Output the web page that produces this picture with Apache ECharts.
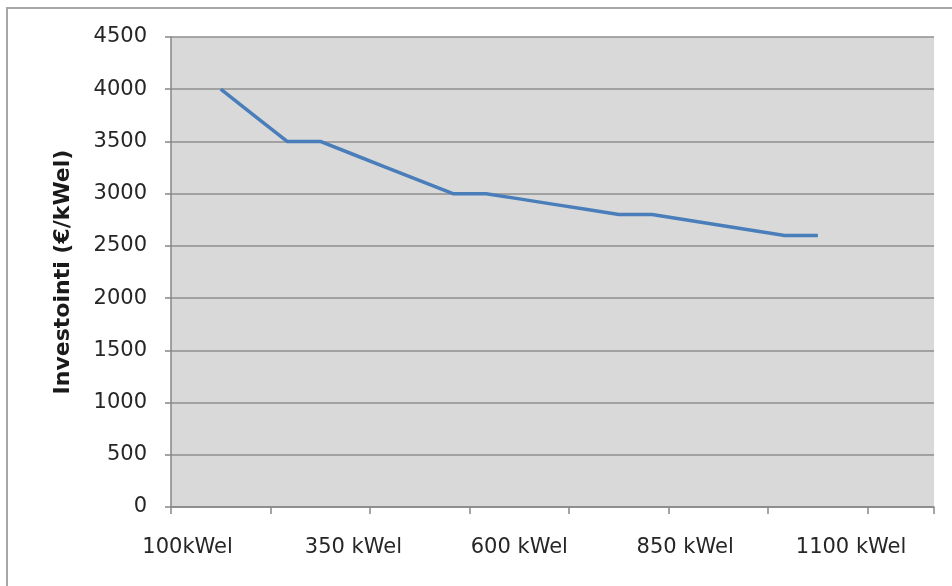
<!DOCTYPE html>
<html>
<head>
<meta charset="utf-8">
<script src="https://cdn.jsdelivr.net/npm/echarts@6/dist/echarts.min.js"></script>
<style>
html,body{margin:0;padding:0;background:#fff;}
#chart{width:952px;height:586px;}
</style>
</head>
<body>
<div id="chart"></div>
<script>
const categories = ['100kWel','150 kWel','200 kWel','250 kWel','300 kWel','350 kWel','400 kWel','450 kWel','500 kWel','550 kWel','600 kWel','650 kWel','700 kWel','750 kWel','800 kWel','850 kWel','900 kWel','950 kWel','1000 kWel','1050 kWel','1100 kWel','1150 kWel','1200 kWel'];
const investment = [null, 4000, 3750, 3500, 3500, 3375, 3250, 3125, 3000, 3000, 2950, 2900, 2850, 2800, 2800, 2750, 2700, 2650, 2600, 2600, null, null, null];
const yAxisTitle = 'Investointi (€/kWel)';

const chart = echarts.init(document.getElementById('chart'));
const font = 'DejaVu Sans';
chart.setOption({
  animation: false,
  backgroundColor: '#ffffff',
  graphic: [{
    type: 'rect',
    shape: {x: 7, y: 8, width: 1000, height: 700},
    style: {fill: 'none', stroke: '#a6a6a6', lineWidth: 2},
    silent: true
  }],
  grid: {
    left: 171, top: 37, right: 18, bottom: 79,
    show: true, backgroundColor: '#d9d9d9', borderWidth: 0
  },
  xAxis: {
    type: 'category',
    data: categories,
    boundaryGap: true,
    axisLine: {show: true, lineStyle: {color: '#868686', width: 1.5}},
    axisTick: {show: true, interval: 2, length: 7, lineStyle: {color: '#868686', width: 1.5}},
    axisLabel: {interval: 4, margin: 30, fontFamily: font, fontSize: 21, color: '#262626'},
    splitLine: {show: false}
  },
  yAxis: {
    type: 'value',
    min: 0, max: 4500, interval: 500,
    name: yAxisTitle,
    nameLocation: 'middle',
    nameGap: 97,
    nameRotate: 90,
    nameTextStyle: {fontFamily: font, fontSize: 22, fontWeight: 'bold', color: '#1a1a1a'},
    axisLine: {show: true, lineStyle: {color: '#868686', width: 1.5}},
    axisTick: {show: true, length: 6, lineStyle: {color: '#868686', width: 1.5}},
    axisLabel: {margin: 24, fontFamily: font, fontSize: 21, color: '#262626', formatter: function (v) { return String(v); }},
    splitLine: {show: true, lineStyle: {color: '#8e8e8e', width: 1.5}}
  },
  series: [{
    type: 'line',
    data: investment,
    showSymbol: false,
    symbol: 'none',
    connectNulls: false,
    lineStyle: {color: '#4a7ebb', width: 3.5},
    itemStyle: {color: '#4a7ebb'}
  }]
});
</script>
</body>
</html>
